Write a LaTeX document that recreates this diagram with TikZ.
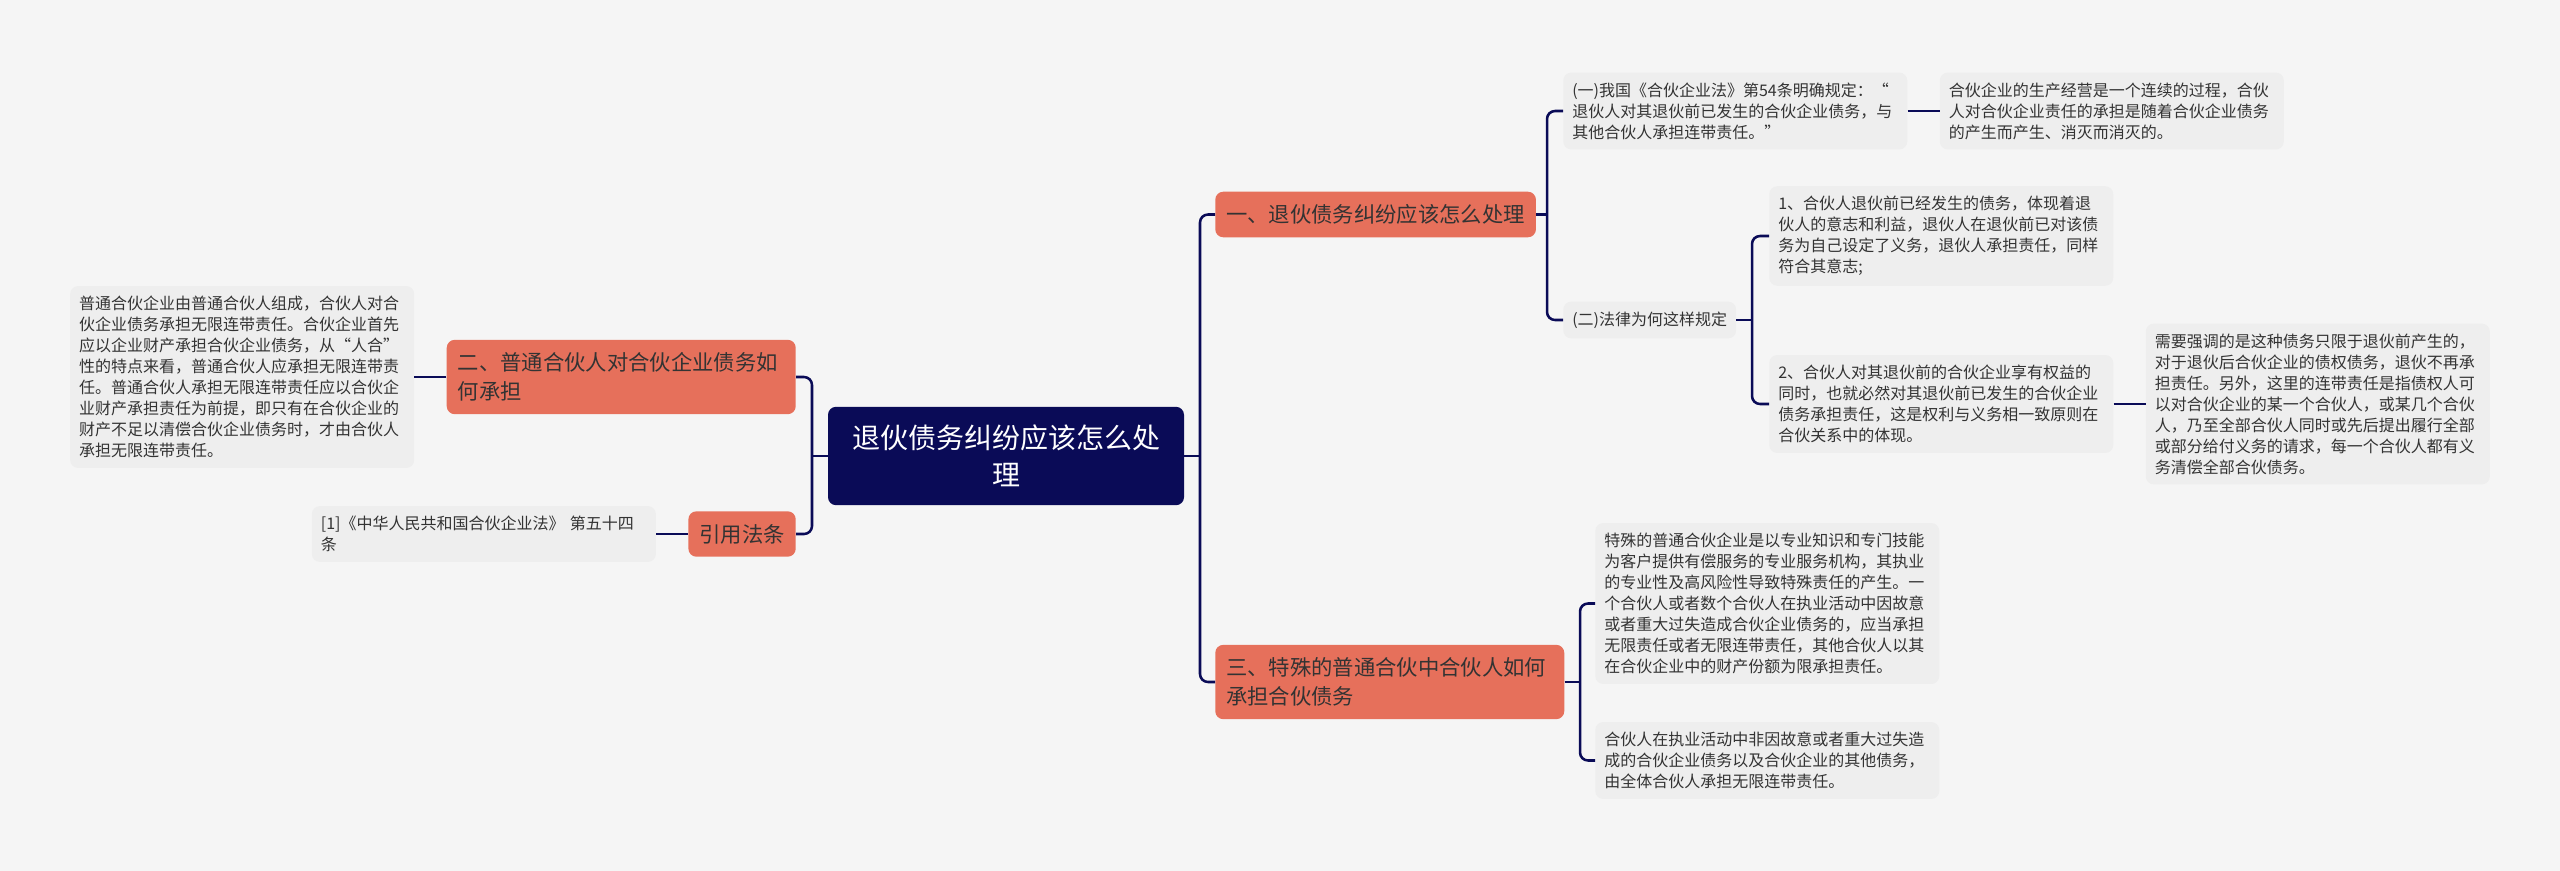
\documentclass[tikz,border=0pt]{standalone}
\usepackage{fontspec}
\setmainfont{Noto Sans CJK SC}
\usepackage{xcolor}
\usetikzlibrary{positioning}
\definecolor{mapbg}{HTML}{F5F5F5}
\definecolor{mapnavy}{HTML}{0A0B57}
\definecolor{mapcoral}{HTML}{E6705B}
\definecolor{mapleaf}{HTML}{EEEEEE}
\definecolor{mapink}{HTML}{333333}

\begin{document}
\begin{tikzpicture}[
  x=0.75pt, y=-0.75pt,
  node distance=24pt and 24pt,
  every node/.style={align=left, text=mapink},
  link/.style={draw=mapnavy, line width=1.9pt, rounded corners=6pt},
  rootbox/.style={
    fill=mapnavy,
    text=white,
    align=center,
    rounded corners=6pt,
    font=\fontsize{21}{28}\selectfont,
    inner xsep=18pt,
    inner ysep=13.5pt
  },
  topic/.style={
    fill=mapcoral,
    rounded corners=6pt,
    font=\fontsize{16}{21.75}\selectfont,
    inner xsep=8.25pt,
    inner ysep=9.6pt
  },
  widetopic/.style={topic, text width=245.25pt},
  leafbase/.style={
    fill=mapleaf,
    rounded corners=6pt,
    font=\fontsize{12}{15.75}\selectfont,
    inner xsep=6.75pt,
    inner ysep=7.5pt
  },
  leaf/.style={leafbase, text width=244.5pt}
]

\fill[mapbg] (0,0) rectangle (2560,871);
\useasboundingbox (0,0) rectangle (2560,871);

\node[rootbox] (root) at (1006,456) {退伙债务纠纷应该怎么处\\理};

\node[topic, anchor=west] (one) at (1215,214.5) {一、退伙债务纠纷应该怎么处理};
\node[widetopic, anchor=west] (three) at (1215,682) {三、特殊的普通合伙中合伙人如何\\承担合伙债务};
\node[widetopic, anchor=east] (two) at (796,377) {二、普通合伙人对合伙企业债务如\\何承担};
\node[topic, anchor=east] (cite) at (796,534) {引用法条};

\node[leaf, left=of two] (twonote) {普通合伙企业由普通合伙人组成，合伙人对合\\
伙企业债务承担无限连带责任。合伙企业首先\\
应以企业财产承担合伙企业债务，从“人合”\\
性的特点来看，普通合伙人应承担无限连带责\\
任。普通合伙人承担无限连带责任应以合伙企\\
业财产承担责任为前提，即只有在合伙企业的\\
财产不足以清偿合伙企业债务时，才由合伙人\\
承担无限连带责任。};

\node[leaf, left=of cite] (citenote) {[1]《中华人民共和国合伙企业法》 第五十四\\
条};

\node[leaf, anchor=west] (rule) at (1563,111) {(一)我国《合伙企业法》第54条明确规定：“\\
退伙人对其退伙前已发生的合伙企业债务，与\\
其他合伙人承担连带责任。”};

\node[leaf, right=of rule] (rulenote) {合伙企业的生产经营是一个连续的过程，合伙\\
人对合伙企业责任的承担是随着合伙企业债务\\
的产生而产生、消灭而消灭的。};

\node[leafbase, anchor=west] (why) at (1563,320) {(二)法律为何这样规定};

\node[leaf, anchor=west] (why1) at (1769,236) {1、合伙人退伙前已经发生的债务，体现着退\\
伙人的意志和利益，退伙人在退伙前已对该债\\
务为自己设定了义务，退伙人承担责任，同样\\
符合其意志;};

\node[leaf, anchor=west] (why2) at (1769,404) {2、合伙人对其退伙前的合伙企业享有权益的\\
同时，也就必然对其退伙前已发生的合伙企业\\
债务承担责任，这是权利与义务相一致原则在\\
合伙关系中的体现。};

\node[leaf, right=of why2] (why2note) {需要强调的是这种债务只限于退伙前产生的，\\
对于退伙后合伙企业的债权债务，退伙不再承\\
担责任。另外，这里的连带责任是指债权人可\\
以对合伙企业的某一个合伙人，或某几个合伙\\
人，乃至全部合伙人同时或先后提出履行全部\\
或部分给付义务的请求，每一个合伙人都有义\\
务清偿全部合伙债务。};

\node[leaf, anchor=west] (special) at (1595,603.5) {特殊的普通合伙企业是以专业知识和专门技能\\
为客户提供有偿服务的专业服务机构，其执业\\
的专业性及高风险性导致特殊责任的产生。一\\
个合伙人或者数个合伙人在执业活动中因故意\\
或者重大过失造成合伙企业债务的，应当承担\\
无限责任或者无限连带责任，其他合伙人以其\\
在合伙企业中的财产份额为限承担责任。};

\node[leaf, anchor=west] (common) at (1595,760.5) {合伙人在执业活动中非因故意或者重大过失造\\
成的合伙企业债务以及合伙企业的其他债务，\\
由全体合伙人承担无限连带责任。};

\coordinate (jright) at (1200,456);
\coordinate (jleft) at (812,456);
\coordinate (jone) at (1547,214.5);
\coordinate (jwhy) at (1752,320);
\coordinate (jthree) at (1580,682);

\draw[link] (root.east) -- (jright);
\draw[link] (one.west) -| (jright) |- (three.west);
\draw[link] (root.west) -- (jleft);
\draw[link] (two.east) -| (jleft) |- (cite.east);
\draw[link] (two.west) -- (twonote.east);
\draw[link] (cite.west) -- (citenote.east);
\draw[link] (one.east) -- (jone);
\draw[link] (rule.west) -| (jone) |- (why.west);
\draw[link] (rule.east) -- (rulenote.west);
\draw[link] (why.east) -- (jwhy);
\draw[link] (why1.west) -| (jwhy) |- (why2.west);
\draw[link] (why2.east) -- (why2note.west);
\draw[link] (three.east) -- (jthree);
\draw[link] (special.west) -| (jthree) |- (common.west);

\end{tikzpicture}
\end{document}
